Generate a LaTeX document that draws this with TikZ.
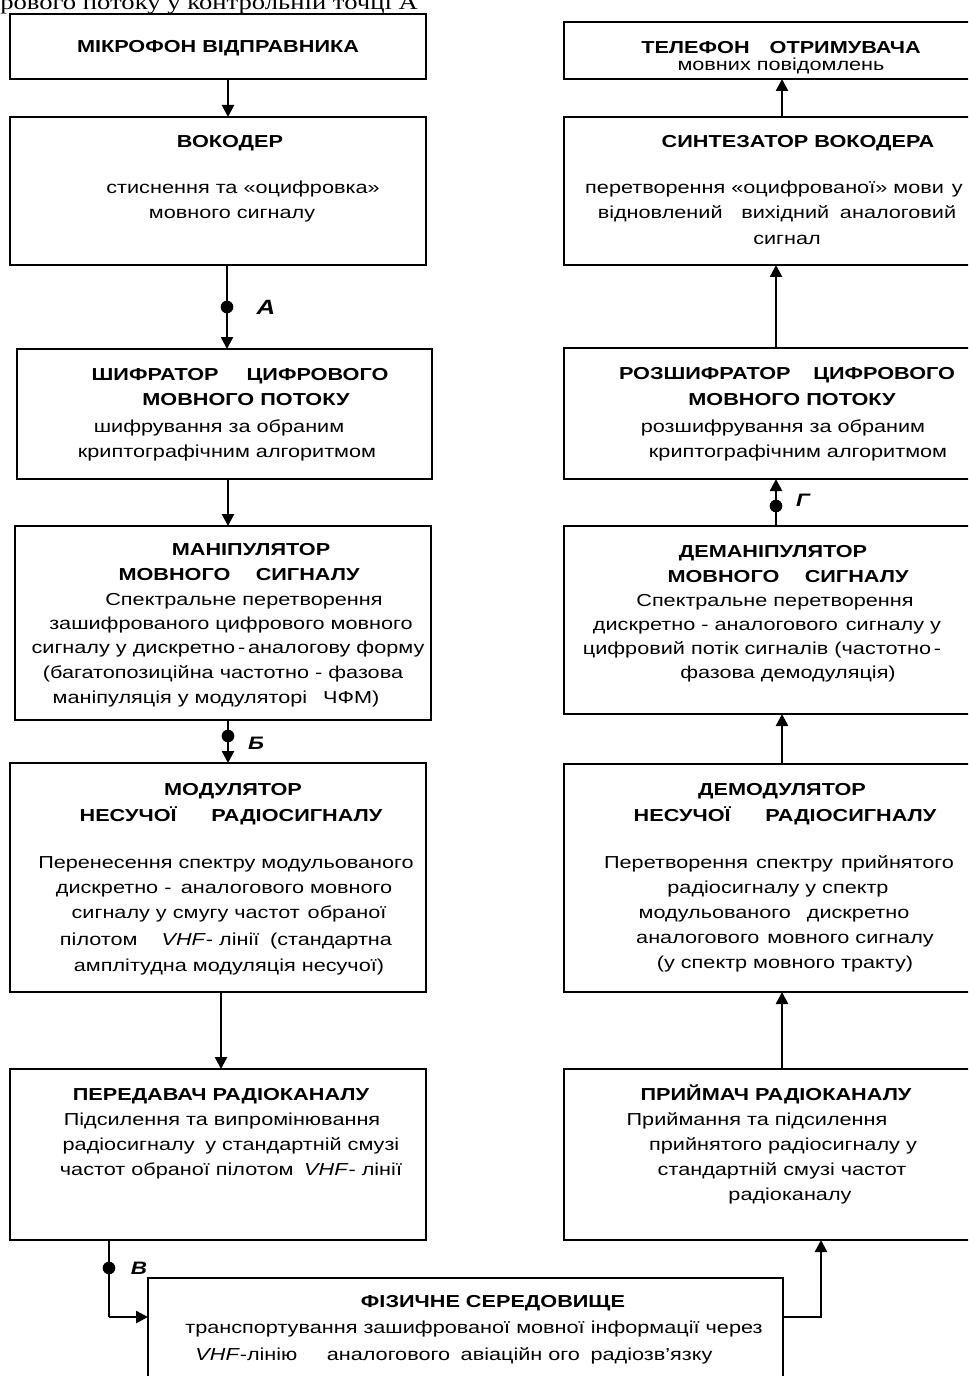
\documentclass[tikz,border=0pt]{standalone}
\usepackage{fontspec}
\setmainfont{Liberation Sans}[FakeStretch=1.25]
\newfontfamily\hdrfont{Liberation Serif}[FakeStretch=1.25]
\usetikzlibrary{arrows.meta}
\newcommand\mytxt[4]{\node[txt] (#1) at (#2,#3) {#4};}
\newcommand\mybtxt[4]{\node[txt,font=\fontsize{13}{15}\selectfont\bfseries] (#1) at (#2,#3) {#4};}
\begin{document}
\begin{tikzpicture}[x=0.75pt,y=-0.75pt,
  box/.style={draw=black,line width=1.1pt,rectangle,inner sep=0pt,outer sep=0pt},
  txt/.style={anchor=base,inner sep=0pt,font=\fontsize{13}{15}\selectfont},
  arr/.style={line width=1.9pt,-{Triangle[length=9pt,width=9pt]}},
  dot/.style={circle,fill=black,inner sep=0pt,minimum size=9.5pt},
  lbl/.style={inner sep=0pt,font=\fontsize{13.5}{15}\selectfont\bfseries\itshape}]
\useasboundingbox (0,0) rectangle (968,1376);
\clip (0,0) rectangle (968,1376);

\node[anchor=base west,inner sep=0pt,font=\hdrfont\fontsize{16}{18}\selectfont] (hdr) at (0,10) {рового потоку у контрольній точці А};

% left column boxes
\node[box,minimum width=312pt,minimum height=48.75pt] (mic) at (218,46.5) {};
\node[box,minimum width=312pt,minimum height=111pt] (voc) at (218,191) {};
\node[box,minimum width=311.25pt,minimum height=97.5pt] (shif) at (224.5,414) {};
\node[box,minimum width=312pt,minimum height=145.5pt] (man) at (223,623) {};
\node[box,minimum width=312pt,minimum height=171.75pt] (mod) at (218,877.5) {};
\node[box,minimum width=312pt,minimum height=128.25pt] (per) at (218,1154.5) {};
% right column boxes
\node[box,minimum width=319.5pt,minimum height=42.75pt] (tel) at (777,50.5) {};
\node[box,minimum width=319.5pt,minimum height=111pt] (syn) at (777,191) {};
\node[box,minimum width=319.5pt,minimum height=98.25pt] (roz) at (777,413.5) {};
\node[box,minimum width=319.5pt,minimum height=141pt] (dman) at (777,620) {};
\node[box,minimum width=319.5pt,minimum height=171pt] (dmod) at (777,878) {};
\node[box,minimum width=319.5pt,minimum height=128.25pt] (pri) at (777,1154.5) {};
% bottom box
\node[box,minimum width=476.25pt,minimum height=91.5pt] (fiz) at (465.5,1339) {};

% texts left
\mybtxt{m1}{218}{53}{МІКРОФОН ВІДПРАВНИКА}
\mybtxt{v1}{230}{148}{ВОКОДЕР}
\mytxt{v2}{243}{194}{стиснення та «оцифровка»}
\mytxt{v3}{232}{219}{мовного сигналу}
\mybtxt{s1}{240}{380}{ШИФРАТОР\hspace{21pt}ЦИФРОВОГО}
\mybtxt{s2}{246}{405}{МОВНОГО ПОТОКУ}
\mytxt{s3}{219}{432}{шифрування за обраним}
\mytxt{s4}{227}{457}{криптографічним алгоритмом}
\mybtxt{n1}{251}{555}{МАНІПУЛЯТОР}
\mybtxt{n2}{239}{580}{МОВНОГО\hspace{19pt}СИГНАЛУ}
\mytxt{n3}{244}{605}{Спектральне перетворення}
\mytxt{n4}{231}{629}{зашифрованого цифрового мовного}
\mytxt{n5}{228}{653}{сигналу у дискретно\,-\,аналогову форму}
\mytxt{n6}{223}{678}{(багатопозиційна частотно - фазова}
\mytxt{n7}{216}{703}{маніпуляція у модуляторі\hspace{12pt}ЧФМ)}
\mybtxt{d1}{233}{795}{МОДУЛЯТОР}
\mybtxt{d2}{231}{821}{НЕСУЧОЇ\hspace{26pt}РАДІОСИГНАЛУ}
\mytxt{d3}{226}{868}{Перенесення спектру модульованого}
\mytxt{d4}{224}{893}{дискретно -\hspace{7pt}аналогового мовного}
\mytxt{d5}{229}{918}{сигналу у смугу частот\hspace{6pt}обраної}
\mytxt{d6}{226}{945}{пілотом\hspace{18pt}\textit{VHF}- лінії\hspace{8pt}(стандартна}
\mytxt{d7}{229}{971}{амплітудна модуляція несучої)}
\mybtxt{p1}{221}{1100}{ПЕРЕДАВАЧ РАДІОКАНАЛУ}
\mytxt{p2}{222}{1125}{Підсилення та випромінювання}
\mytxt{p3}{231}{1150}{радіосигналу\hspace{8pt}у стандартній смузі}
\mytxt{p4}{231}{1175}{частот обраної пілотом\hspace{8pt}\textit{VHF}- лінії}
% texts right
\mybtxt{t1}{781}{54}{ТЕЛЕФОН\hspace{15pt}ОТРИМУВАЧА}
\mytxt{t2}{781}{71}{мовних повідомлень}
\mybtxt{y1}{798}{148}{СИНТЕЗАТОР ВОКОДЕРА}
\mytxt{y2}{774}{194}{перетворення «оцифрованої» мови\hspace{6pt}у}
\mytxt{y3}{777}{219}{відновлений\hspace{14pt}вихідний\hspace{8pt}аналоговий}
\mytxt{y4}{787}{245}{сигнал}
\mybtxt{r1}{787}{379}{РОЗШИФРАТОР\hspace{17pt}ЦИФРОВОГО}
\mybtxt{r2}{792}{405}{МОВНОГО ПОТОКУ}
\mytxt{r3}{783}{432}{розшифрування за обраним}
\mytxt{r4}{798}{457}{криптографічним алгоритмом}
\mybtxt{e1}{773}{557}{ДЕМАНІПУЛЯТОР}
\mybtxt{e2}{788}{582}{МОВНОГО\hspace{19pt}СИГНАЛУ}
\mytxt{e3}{775}{606}{Спектральне перетворення}
\mytxt{e4}{767}{630}{дискретно - аналогового\hspace{6pt}сигналу у}
\mytxt{e5}{762}{654}{цифровий потік сигналів (частотно\,-}
\mytxt{e6}{788}{678}{фазова демодуляція)}
\mybtxt{f1}{782}{795}{ДЕМОДУЛЯТОР}
\mybtxt{f2}{785}{821}{НЕСУЧОЇ\hspace{26pt}РАДІОСИГНАЛУ}
\mytxt{f3}{779}{868}{Перетворення\hspace{6pt}спектру\hspace{6pt}прийнятого}
\mytxt{f4}{778}{893}{радіосигналу у спектр}
\mytxt{f5}{774}{918}{модульованого\hspace{12pt}дискретно}
\mytxt{f6}{785}{943}{аналогового\hspace{6pt}мовного сигналу}
\mytxt{f7}{785}{968}{(у спектр мовного тракту)}
\mybtxt{g1}{776}{1100}{ПРИЙМАЧ РАДІОКАНАЛУ}
\mytxt{g2}{757}{1125}{Приймання та підсилення}
\mytxt{g3}{783}{1150}{прийнятого радіосигналу у}
\mytxt{g4}{782}{1175}{стандартній смузі частот}
\mytxt{g5}{790}{1200}{радіоканалу}
% bottom text
\mybtxt{h1}{493}{1307}{ФІЗИЧНЕ СЕРЕДОВИЩЕ}
\mytxt{h2}{474}{1333}{транспортування зашифрованої мовної інформації через}
\mytxt{h3}{454}{1360}{\textit{VHF}-лінію\hspace{22pt}аналогового\hspace{8pt}авіаційн ого\hspace{8pt}радіозв’язку}

% connector x positions
\coordinate (xa) at (228,0);
\coordinate (xb) at (227,0);
\coordinate (xc) at (221,0);
\coordinate (xr) at (782,0);
\coordinate (xs) at (776,0);
\coordinate (cB) at (109,1317);
\coordinate (cC) at (821,1317);

% left connectors
\draw[arr] (mic.south -| xa) -- (voc.north -| xa);
\draw[arr] (voc.south -| xb) -- (shif.north -| xb);
\draw[arr] (shif.south -| xa) -- (man.north -| xa);
\draw[arr] (man.south -| xa) -- (mod.north -| xa);
\draw[arr] (mod.south -| xc) -- (per.north -| xc);
\draw[line width=1pt] (per.south -| cB) -- (cB);
\draw[arr] (cB) -- (fiz.west |- cB);
\draw[arr] (fiz.east |- cC) -- (cC) -- (pri.south -| cC);
% right connectors
\draw[arr] (pri.north -| xr) -- (dmod.south -| xr);
\draw[arr] (dmod.north -| xr) -- (dman.south -| xr);
\draw[arr] (dman.north -| xs) -- (roz.south -| xs);
\draw[arr] (roz.north -| xs) -- (syn.south -| xs);
\draw[arr] (syn.north -| xr) -- (tel.south -| xr);

% control points
\node[dot] (dA) at (227,307) {};
\node[lbl,font=\fontsize{15.5}{17}\selectfont\bfseries\itshape] (lA) at (266,307) {А};
\node[dot] (dB) at (228,736) {};
\node[lbl] (lB) at (256,743) {Б};
\node[dot] (dV) at (109,1268) {};
\node[lbl] (lV) at (139,1268) {В};
\node[dot] (dG) at (776,506) {};
\node[lbl] (lG) at (803,500) {Г};
\end{tikzpicture}
\end{document}
